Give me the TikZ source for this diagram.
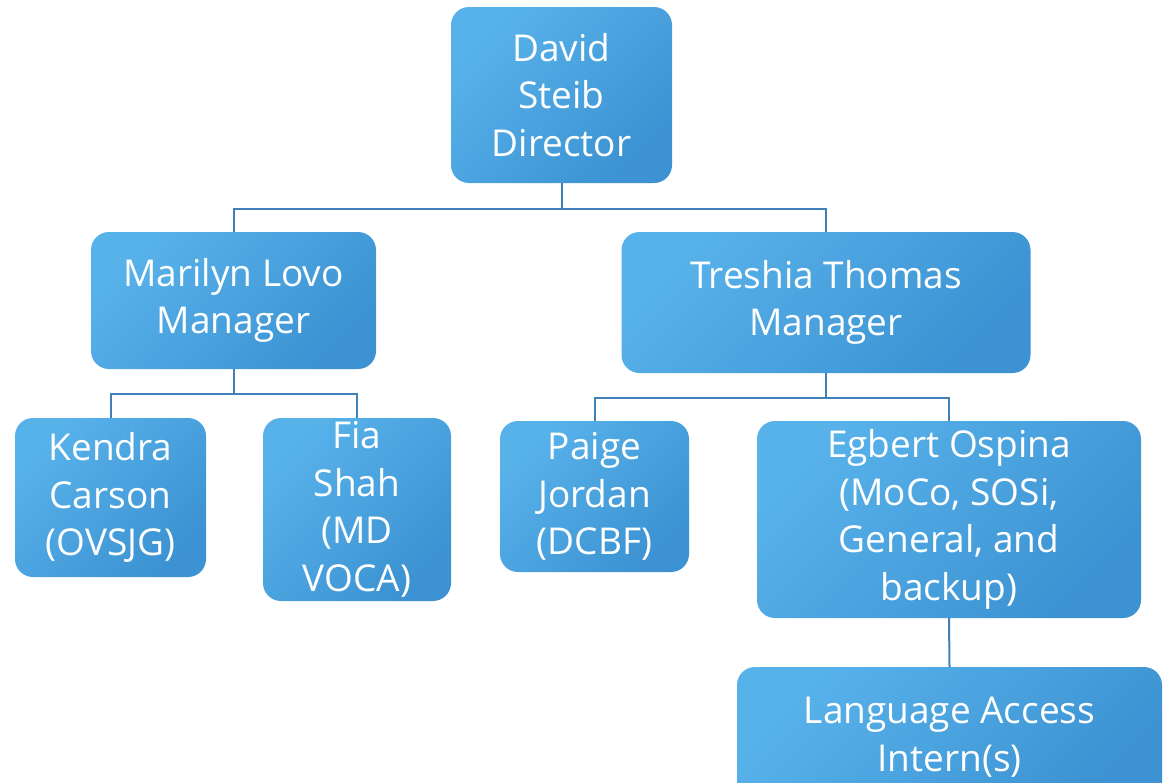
\documentclass[tikz,border=0pt]{standalone}
\usepackage{fontspec}
\setmainfont{Open Sans}
\definecolor{boxlight}{RGB}{88,178,234}
\definecolor{boxdark}{RGB}{60,146,210}
\definecolor{linecol}{RGB}{64,128,184}
\begin{document}
\begin{tikzpicture}[x=1pt,y=-1pt,
  box/.style={rectangle, rounded corners=18pt, inner sep=0pt, align=center,
    text=white, font=\fontsize{37}{47.5}\selectfont,
    top color=boxlight, bottom color=boxdark, shading angle=45},
  conn/.style={draw=linecol, line width=2pt}]
\useasboundingbox (0,0) rectangle (1169,782);
\node[box, minimum width=221pt, minimum height=176pt] (dir) at (561.5,95) {David\\Steib\\Director};
\node[box, minimum width=285pt, minimum height=137pt] (ml) at (233.5,300.5) {Marilyn Lovo\\Manager};
\node[box, minimum width=409pt, minimum height=141pt] (tt) at (826,302.5) {Treshia Thomas\\Manager};
\node[box, minimum width=191pt, minimum height=159pt] (kc) at (110.5,497.5) {Kendra\\Carson\\(OVSJG)};
\node[box, minimum width=188pt, minimum height=183pt] (fs) at (357,509.5) {Fia\\Shah\\(MD\\VOCA)};
\node[box, minimum width=189pt, minimum height=151pt] (pj) at (594.5,496.5) {Paige\\Jordan\\(DCBF)};
\node[box, minimum width=384pt, minimum height=197pt] (eo) at (949,519.5) {Egbert Ospina\\(MoCo, SOSi,\\General, and\\backup)};
\node[box, minimum width=425pt, minimum height=140pt] (la) at (949.5,737) {Language Access\\Intern(s)};
\coordinate (b1) at (0,209);
\coordinate (b2) at (0,394);
\coordinate (b3) at (0,398);
\draw[conn] (dir.south) -- (dir.south |- b1) -| (ml.north);
\draw[conn] (dir.south |- b1) -| (tt.north);
\draw[conn] (ml.south) -- (ml.south |- b2) -| (kc.north);
\draw[conn] (ml.south |- b2) -| (fs.north);
\draw[conn] (tt.south) -- (tt.south |- b3) -| (pj.north);
\draw[conn] (tt.south |- b3) -| (eo.north);
\draw[conn] (eo.south) -- (la.north);
\end{tikzpicture}
\end{document}
